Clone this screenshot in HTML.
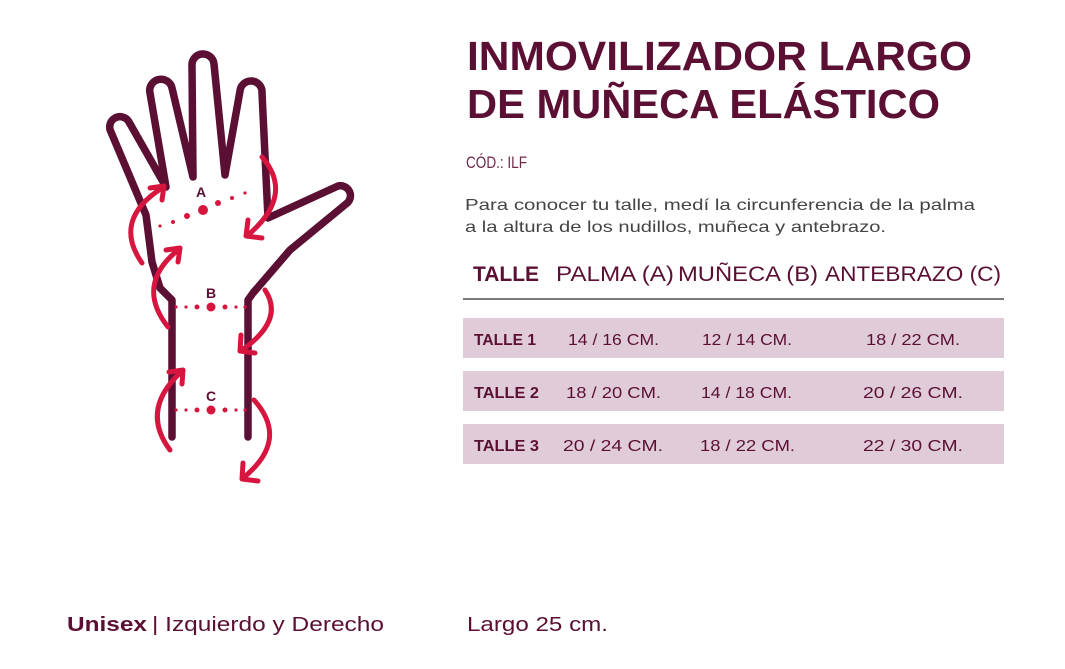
<!DOCTYPE html>
<html><head><meta charset="utf-8"><style>
html,body{margin:0;padding:0;background:#fff}
svg{display:block}
text{font-family:"Liberation Sans",sans-serif}
</style></head><body>
<svg width="1065" height="669" viewBox="0 0 1065 669" xmlns="http://www.w3.org/2000/svg">
<rect width="1065" height="669" fill="#fff"/>
<!-- hand -->
<path d="M172,437 L172,300 L160,288 L152,262 L146,215 L111,132 A10,10 0 0 1 129,122 L166,187 L150,93 A11,11 0 0 1 172,88 L193,177 L192,66 A11,11 0 0 1 214,64 L225,175 L240,91 A11,11 0 0 1 262,93 L268,218 L338,186 A10,10 0 0 1 346,204 L290,250 L253,293 L248,300 L248,437" fill="none" stroke="#5a0f33" stroke-width="7.5" stroke-linejoin="round" stroke-linecap="round"/>
<g fill="none" stroke="#d6163f" stroke-width="5" stroke-linecap="round" stroke-linejoin="round">
<path d="M142,263 Q112,220 162,188"/><path d="M150,188 L164,186 L162,200"/>
<path d="M262,157 Q295,195 248,235"/><path d="M248,220 L246,236 L262,238"/>
<path d="M168,327 Q135,285 178,250"/><path d="M166,250 L180,248 L178,262"/>
<path d="M265,290 Q285,320 242,350"/><path d="M241,335 L240,351 L255,353"/>
<path d="M170,450 Q140,410 181,372"/><path d="M169,372 L183,370 L182,384"/>
<path d="M254,400 Q290,440 243,478"/><path d="M243,463 L242,479 L258,481"/>
</g>
<g fill="#d6163f">
<circle cx="160" cy="226" r="1.6"/><circle cx="173" cy="222" r="2"/><circle cx="187" cy="216" r="3"/><circle cx="203" cy="210" r="5"/><circle cx="218" cy="203" r="3"/><circle cx="232" cy="198" r="2"/><circle cx="245" cy="193" r="1.6"/>
<circle cx="176" cy="307" r="1.6"/><circle cx="186" cy="307" r="1.6"/><circle cx="197" cy="307" r="2.5"/><circle cx="211" cy="307" r="4.5"/><circle cx="225" cy="307" r="2.5"/><circle cx="236" cy="307" r="1.6"/><circle cx="245" cy="307" r="1.6"/>
<circle cx="176" cy="410" r="1.6"/><circle cx="186" cy="410" r="1.6"/><circle cx="197" cy="410" r="2.5"/><circle cx="211" cy="410" r="4.5"/><circle cx="225" cy="410" r="2.5"/><circle cx="236" cy="410" r="1.6"/><circle cx="245" cy="410" r="1.6"/>
</g>
<g fill="#5a0f33" font-size="14" font-weight="bold">
<text x="196" y="197">A</text><text x="206" y="298">B</text><text x="206" y="401">C</text>
</g>
<!-- title -->
<g fill="#5a0f33" font-weight="bold" font-size="41">
<text x="467" y="70" textLength="505" lengthAdjust="spacingAndGlyphs">INMOVILIZADOR LARGO</text>
<text x="467" y="118" textLength="473" lengthAdjust="spacingAndGlyphs">DE MUÑECA ELÁSTICO</text>
</g>
<text x="466" y="168" font-size="17" fill="#6a2a48" textLength="61" lengthAdjust="spacingAndGlyphs">CÓD.: ILF</text>
<g fill="#444" font-size="16">
<text x="465" y="210" textLength="510" lengthAdjust="spacingAndGlyphs">Para conocer tu talle, medí la circunferencia de la palma</text>
<text x="465" y="232" textLength="421" lengthAdjust="spacingAndGlyphs">a la altura de los nudillos, muñeca y antebrazo.</text>
</g>
<g fill="#5a0f33" font-size="21">
<text x="473" y="281" font-weight="bold" textLength="66" lengthAdjust="spacingAndGlyphs">TALLE</text>
<text x="556" y="281" textLength="118" lengthAdjust="spacingAndGlyphs">PALMA (A)</text>
<text x="678" y="281" textLength="140" lengthAdjust="spacingAndGlyphs">MUÑECA (B)</text>
<text x="825" y="281" textLength="176" lengthAdjust="spacingAndGlyphs">ANTEBRAZO (C)</text>
</g>
<rect x="463" y="298" width="541" height="2" fill="#7a7a7a"/>
<g fill="#e0ccd8">
<rect x="463" y="318" width="541" height="40"/>
<rect x="463" y="371" width="541" height="40"/>
<rect x="463" y="424" width="541" height="40"/>
</g>
<g fill="#5a0f33" font-size="16">
<text x="474" y="345" font-weight="bold" textLength="62" lengthAdjust="spacingAndGlyphs">TALLE 1</text>
<text x="568" y="345" textLength="91" lengthAdjust="spacingAndGlyphs">14 / 16 CM.</text>
<text x="702" y="345" textLength="90" lengthAdjust="spacingAndGlyphs">12 / 14 CM.</text>
<text x="866" y="345" textLength="94" lengthAdjust="spacingAndGlyphs">18 / 22 CM.</text>
<text x="474" y="398" font-weight="bold" textLength="65" lengthAdjust="spacingAndGlyphs">TALLE 2</text>
<text x="566" y="398" textLength="95" lengthAdjust="spacingAndGlyphs">18 / 20 CM.</text>
<text x="701" y="398" textLength="91" lengthAdjust="spacingAndGlyphs">14 / 18 CM.</text>
<text x="863" y="398" textLength="100" lengthAdjust="spacingAndGlyphs">20 / 26 CM.</text>
<text x="474" y="451" font-weight="bold" textLength="65" lengthAdjust="spacingAndGlyphs">TALLE 3</text>
<text x="563" y="451" textLength="100" lengthAdjust="spacingAndGlyphs">20 / 24 CM.</text>
<text x="700" y="451" textLength="95" lengthAdjust="spacingAndGlyphs">18 / 22 CM.</text>
<text x="863" y="451" textLength="100" lengthAdjust="spacingAndGlyphs">22 / 30 CM.</text>
</g>
<g font-size="20">
<text x="67" y="631" fill="#5a0f33" font-weight="bold" textLength="80" lengthAdjust="spacingAndGlyphs">Unisex</text>
<text x="152" y="631" fill="#5a0f33" textLength="232" lengthAdjust="spacingAndGlyphs">| Izquierdo y Derecho</text>
<text x="467" y="631" fill="#5a0f33" textLength="141" lengthAdjust="spacingAndGlyphs">Largo 25 cm.</text>
</g>
</svg>
</body></html>
